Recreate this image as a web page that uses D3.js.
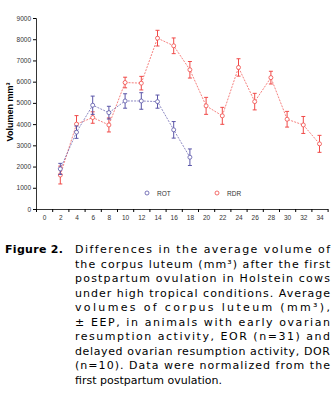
<!DOCTYPE html>
<html>
<head>
<meta charset="utf-8">
<script src="https://d3js.org/d3.v7.min.js"></script>
<style>
  body { margin: 0; background: #fff; font-family: 'DejaVu Sans', Verdana, sans-serif; }
  #chart { position: absolute; left: 0; top: 0; }
  #caption { position: absolute; left: 5px; top: 243px; width: 325px; font-size: 11px; line-height: 14.5px; color: #000; }
  #caption .fig { position: absolute; left: 0; top: 0; font-weight: bold; letter-spacing: 0.3px; }
  #caption .body { position: absolute; left: 70px; top: 0; width: 255px; }
  #caption .ln { display: block; white-space: nowrap; height: 14.5px; }
  #caption .ln span { display: inline-block; }
</style>
</head>
<body>
<div id="chart"></div>
<div id="caption"></div>
<script>
// days after first postpartum ovulation
const days = [0, 2, 4, 6, 8, 10, 12, 14, 16, 18, 20, 22, 24, 26, 28, 30, 32, 34];
const yTicks = [0, 1000, 2000, 3000, 4000, 5000, 6000, 7000, 8000, 9000];

// early ovarian resumption (blue)
const rotDays = [2, 4, 6, 8, 10, 12, 14, 16, 18];
const rotMean = [1890, 3620, 4890, 4540, 5090, 5090, 5060, 3730, 2440];
const rotErr  = [260, 290, 430, 300, 340, 390, 310, 390, 390];

// delayed ovarian resumption (red)
const rdrDays = [2, 4, 6, 8, 10, 12, 14, 16, 18, 20, 22, 24, 26, 28, 30, 32, 34];
const rdrMean = [1600, 4000, 4310, 3960, 5960, 5930, 8050, 7690, 6560, 4860, 4390, 6670, 5060, 6190, 4230, 3960, 3070];
const rdrErr  = [420, 400, 270, 330, 250, 320, 370, 370, 390, 400, 400, 410, 390, 300, 370, 400, 400];

const captionLines = [
  "Differences in the average volume of",
  "the corpus luteum (mm³) after the first",
  "postpartum ovulation in Holstein cows",
  "under high tropical conditions. Average",
  "volumes of corpus luteum (mm³),",
  "± EEP, in animals with early ovarian",
  "resumption activity, EOR (n=31) and",
  "delayed ovarian resumption activity, DOR",
  "(n=10). Data were normalized from the",
  "first postpartum ovulation."
];

const W = 335, H = 240;
const svg = d3.select("#chart").append("svg").attr("width", W).attr("height", H);

const x = d3.scaleLinear().domain([-1, 35]).range([36, 327.6]);
const y = d3.scaleLinear().domain([0, 9000]).range([209, 18]);

// y axis
svg.append("g")
  .attr("transform", "translate(36,0)")
  .call(d3.axisLeft(y).tickValues(yTicks).tickSize(3).tickPadding(2).tickFormat(d3.format("d")))
  .call(g => g.select(".domain").attr("stroke", "#000").attr("stroke-width", 0.8))
  .call(g => g.selectAll(".tick line").attr("stroke", "#000"))
  .call(g => g.selectAll(".tick text").attr("font-family", "'Liberation Sans', Arial, sans-serif")
    .attr("font-size", 6.5).attr("fill", "#333"));

// x axis: tick marks between categories, labels centred
svg.append("g")
  .attr("transform", "translate(0,209)")
  .call(d3.axisBottom(x).tickValues(d3.range(-1, 36, 2)).tickSize(3).tickFormat("").tickSizeOuter(0))
  .call(g => g.select(".domain").attr("stroke", "#000").attr("stroke-width", 0.8));
svg.append("g")
  .attr("transform", "translate(0,209)")
  .call(d3.axisBottom(x).tickValues(days).tickSize(0).tickPadding(6))
  .call(g => g.select(".domain").remove())
  .call(g => g.selectAll(".tick text").attr("font-family", "'Liberation Sans', Arial, sans-serif")
    .attr("font-size", 6.5).attr("fill", "#333"));

// y title
svg.append("text")
  .attr("transform", "translate(13,112) rotate(-90)")
  .attr("text-anchor", "middle")
  .attr("font-family", "'Liberation Sans', Arial, sans-serif")
  .attr("font-size", 9).attr("font-weight", "bold")
  .text("Volumen mm³");

function series(ds, ms, es, color) {
  const pts = ds.map((d, i) => ({ d: d, m: ms[i], e: es[i] }));
  const g = svg.append("g");
  g.append("path")
    .datum(pts)
    .attr("fill", "none").attr("stroke", color).attr("stroke-width", 0.7)
    .attr("stroke-dasharray", "2,1.2")
    .attr("d", d3.line().x(p => x(p.d)).y(p => y(p.m)));
  const eb = g.selectAll(".eb").data(pts).enter().append("g").attr("stroke", color).attr("stroke-width", 1);
  eb.append("line").attr("x1", p => x(p.d)).attr("x2", p => x(p.d))
    .attr("y1", p => y(p.m + p.e)).attr("y2", p => y(p.m - p.e));
  eb.append("line").attr("x1", p => x(p.d) - 2).attr("x2", p => x(p.d) + 2)
    .attr("y1", p => y(p.m + p.e)).attr("y2", p => y(p.m + p.e));
  eb.append("line").attr("x1", p => x(p.d) - 2).attr("x2", p => x(p.d) + 2)
    .attr("y1", p => y(p.m - p.e)).attr("y2", p => y(p.m - p.e));
  g.selectAll("circle").data(pts).enter().append("circle")
    .attr("cx", p => x(p.d)).attr("cy", p => y(p.m)).attr("r", 2)
    .attr("fill", "#fff").attr("stroke", color).attr("stroke-width", 0.8);
}

const blue = "#5a55a8", red = "#f04a48";
series(rdrDays, rdrMean, rdrErr, red);
series(rotDays, rotMean, rotErr, blue);

// legend
const legend = [{ label: "ROT", color: blue, x: 147 }, { label: "RDR", color: red, x: 217 }];
const lg = svg.selectAll(".lg").data(legend).enter().append("g");
lg.append("circle").attr("cx", d => d.x).attr("cy", 193).attr("r", 2)
  .attr("fill", "#fff").attr("stroke", d => d.color).attr("stroke-width", 0.8);
lg.append("text").attr("x", d => d.x + 10).attr("y", 195.5)
  .attr("font-family", "'Liberation Sans', Arial, sans-serif").attr("font-size", 6.5).attr("fill", "#333")
  .text(d => d.label);

// caption, justified by spreading letters like the original
const cap = d3.select("#caption");
cap.append("div").attr("class", "fig").text("Figure 2.");
const body = cap.append("div").attr("class", "body");
const spans = body.selectAll(".ln").data(captionLines).enter().append("div")
  .attr("class", "ln").append("span").text(d => d);
spans.each(function (d, i) {
  if (i === captionLines.length - 1) return;
  const w = this.getBoundingClientRect().width;
  const n = [...d].length;
  const ls = (255 - w) / (n - 1);
  d3.select(this).style("letter-spacing", ls + "px");
});
</script>
</body>
</html>
